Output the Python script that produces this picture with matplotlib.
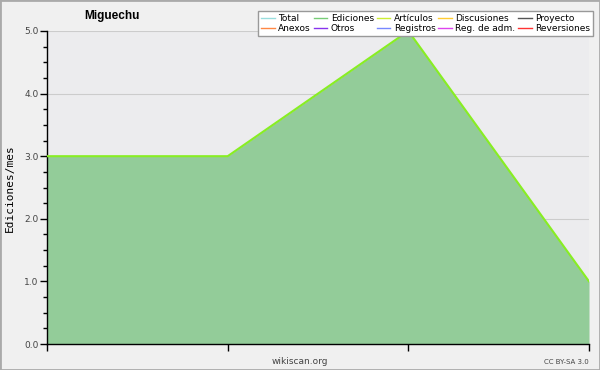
import matplotlib
matplotlib.use("Agg")
import matplotlib.pyplot as plt
from matplotlib.lines import Line2D
from matplotlib.patches import Rectangle

title = "Miguechu"
ylabel = "Ediciones/mes"
months = [0, 1, 2, 3]
values = [3, 3, 5, 1]
legend_labels = ["Total", "Ediciones", "Artículos", "Discusiones", "Proyecto",
                 "Anexos", "Otros", "Registros", "Reg. de adm.", "Reversiones"]
legend_colors = ["#99dddd", "#77cc77", "#ccee33", "#ffcc33", "#555555",
                 "#ff8844", "#8833ee", "#7788ff", "#dd44ee", "#ff3333"]
yticks = [0.0, 1.0, 2.0, 3.0, 4.0, 5.0]

fig = plt.figure(figsize=(6, 3.7), dpi=100, facecolor="#f0f0f0")
fig.patches.append(Rectangle((0, 0), 1, 1, transform=fig.transFigure,
                             fill=False, edgecolor="#aaaaaa", linewidth=2))
ax = fig.add_axes([47/600, 26/370, 542/600, 313/370])
ax.set_facecolor("#ececee")
ax.fill_between(months, values, 0, color="#93cc99", linewidth=0, zorder=2)
ax.plot(months, values, color="#88ee22", linewidth=1.5, zorder=3)
ax.set_xlim(0, 3)
ax.set_ylim(0, 5)
ax.set_yticks(yticks)
ax.set_yticklabels([f"{v:.1f}" for v in yticks])
ax.set_yticks([i * 0.25 for i in range(21)], minor=True)
ax.set_xticks(months)
ax.set_xticklabels([])
ax.grid(axis="y", color="#cccccc", linewidth=0.8, zorder=1)
ax.set_axisbelow(True)
for s in ["top", "right"]:
    ax.spines[s].set_visible(False)
ax.spines["left"].set_linewidth(1)
ax.spines["bottom"].set_linewidth(1)
ax.tick_params(axis="y", which="major", labelsize=6.5, labelcolor="#444444", length=5, width=1, pad=1)
ax.tick_params(axis="y", which="minor", length=3, width=1)
ax.tick_params(axis="x", length=5, width=1)

fig.text(112/600, 1 - 16/370, title, fontsize=8.5, fontweight="bold", family="Liberation Sans",
         ha="center", va="center")
fig.text(10/600, 1 - 188/370, ylabel, fontsize=8, family="DejaVu Sans Mono", rotation=90,
         ha="center", va="center")
fig.text(300/600, 1 - 361/370, "wikiscan.org", fontsize=6.5, color="#444444", ha="center", va="center")
fig.text(589/600, 1 - 362/370, "CC BY-SA 3.0", fontsize=5, color="#444444", ha="right", va="center")

# reorder so that legend fills row by row
order = [0, 5, 1, 6, 2, 7, 3, 8, 4, 9]
handles = [Line2D([], [], color=legend_colors[i], linewidth=1) for i in order]
labels = [legend_labels[i] for i in order]
leg = fig.legend(handles, labels, ncol=5, loc="upper right",
                 bbox_to_anchor=(593/600, 1 - 11/370), fontsize=6.5, frameon=True,
                 fancybox=False, edgecolor="#999999", framealpha=1, facecolor="white",
                 handlelength=1.5, handletextpad=0.4, columnspacing=0.3,
                 labelspacing=0.15, borderpad=0.3, borderaxespad=0)
leg.get_frame().set_linewidth(1)
leg.set_zorder(10)

fig.savefig("out.png", dpi=100, facecolor=fig.get_facecolor())
